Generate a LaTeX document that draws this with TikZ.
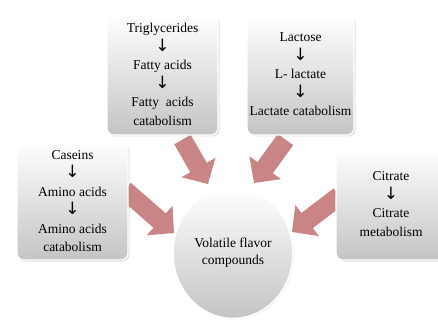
\documentclass[tikz,border=0pt]{standalone}
\usepackage{fontspec}
\setmainfont{Liberation Serif}
\newfontfamily\arrfont{DejaVu Sans}
\newcommand{\dar}{{\arrfont\fontsize{17}{12}\selectfont ↓}}
\usetikzlibrary{shapes.geometric,arrows.meta,shadows,backgrounds}
\definecolor{arrowc}{HTML}{C98585}
\definecolor{boxbot}{HTML}{C4C4C4}
\begin{document}
\begin{tikzpicture}[x=1pt,y=-1pt,
  srcbox/.style={draw=white, line width=1.2pt, rounded corners=7pt,
    top color=white, bottom color=boxbot, align=center,
    drop shadow={opacity=0.25,shadow xshift=1.5pt,shadow yshift=-1.5pt},
    font=\fontsize{13.5}{18.5}\selectfont, inner sep=2pt},
  flow/.style={line width=19pt, draw=arrowc,
    -{Triangle[length=19pt,width=38pt]}},
  ]
\useasboundingbox (0,0) rectangle (438,320);
\node[srcbox, minimum width=111pt, minimum height=121pt] (tl) at (162.5,74.5)
  {Triglycerides\\\dar\\Fatty acids\\\dar\\Fatty\ \ acids\\catabolism};
\node[srcbox, minimum width=107pt, minimum height=121pt] (tr) at (300.5,74.5)
  {Lactose\\\dar\\L- lactate\\\dar\\Lactate catabolism};
\node[srcbox, minimum width=111pt, minimum height=118pt] (lb) at (72.5,201)
  {Caseins\\\dar\\Amino acids\\\dar\\Amino acids\\catabolism};
\node[srcbox, minimum width=110pt, minimum height=112pt, text width=100pt] (rb) at (391,204)
  {Citrate\\\dar\\Citrate\\metabolism};
\node[ellipse, draw=white, line width=1.5pt, minimum width=120pt, minimum height=131pt,
  top color=white, bottom color=boxbot, align=center,
  drop shadow={opacity=0.2,shadow xshift=1pt,shadow yshift=-1pt},
  font=\fontsize{13.5}{17}\selectfont] (vf) at (233,253)
  {Volatile flavor\\compounds};
\coordinate (t1) at (208,184);
\coordinate (t2) at (254,183);
\coordinate (t3) at (174,233);
\coordinate (t4) at (292,232);
\begin{scope}[on background layer]
\draw[flow] ([xshift=20pt,yshift=-4pt]tl.south) -- (t1);
\draw[flow] ([xshift=-15pt,yshift=-4pt]tr.south) -- (t2);
\draw[flow] ([xshift=-4pt,yshift=11pt]lb.east) -- (t3);
\draw[flow] ([xshift=4pt,yshift=8pt]rb.west) -- (t4);
\end{scope}
\end{tikzpicture}
\end{document}
